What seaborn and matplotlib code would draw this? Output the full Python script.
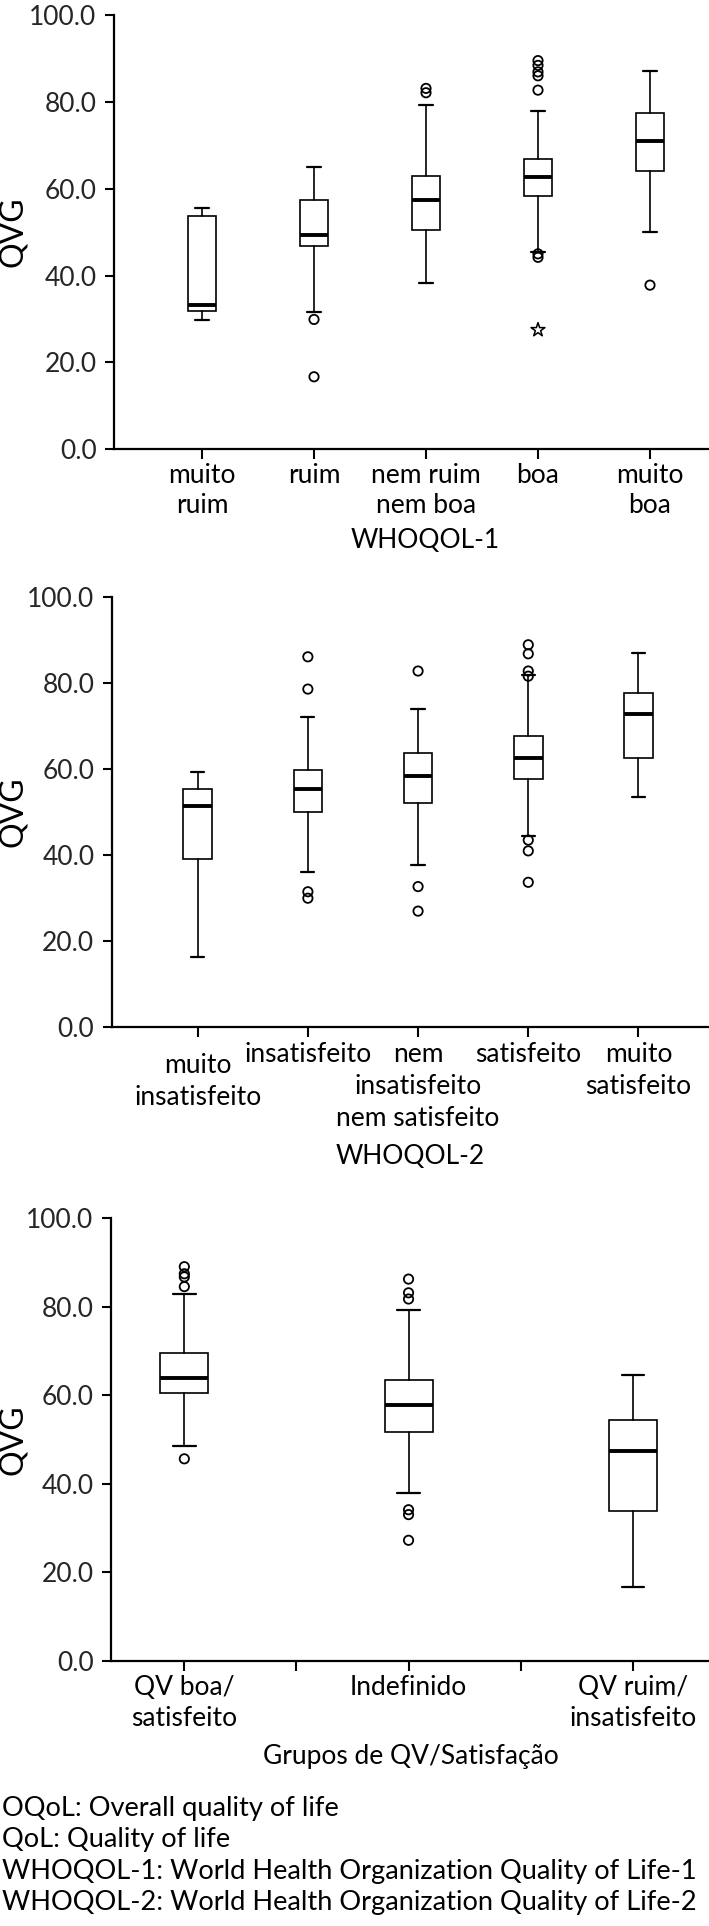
import numpy as np
import pandas as pd
import matplotlib
matplotlib.use("Agg")
import matplotlib.pyplot as plt
import seaborn as sns

# ---------------- data ----------------
w1_labels = ["muito\nruim", "ruim", "nem ruim\nnem boa", "boa", "muito\nboa"]
w1_whislo = [29.8, 31.7, 38.4, 45.5, 50.1]
w1_q1 = [31.8, 46.7, 50.5, 58.4, 64.1]
w1_med = [33.2, 49.3, 57.5, 62.7, 71.1]
w1_q3 = [53.7, 57.5, 63.0, 66.9, 77.5]
w1_whishi = [55.5, 65.0, 79.2, 78.0, 87.1]
w1_out = [[], [29.9, 16.7], [83.1, 82.1], [89.5, 88.4, 86.9, 86.0, 82.7, 45.0, 44.2], [37.8]]
w1_ext = [[], [], [], [27.5], []]

w2_labels = ["muito\ninsatisfeito", "insatisfeito", "nem\ninsatisfeito\nnem satisfeito",
             "satisfeito", "muito\nsatisfeito"]
w2_whislo = [16.4, 36.1, 37.7, 44.5, 53.5]
w2_q1 = [39.0, 50.0, 52.2, 57.7, 62.5]
w2_med = [51.4, 55.4, 58.5, 62.7, 72.7]
w2_q3 = [55.4, 59.7, 63.8, 67.7, 77.7]
w2_whishi = [59.3, 72.0, 73.9, 81.8, 87.1]
w2_out = [[], [86.1, 78.6, 31.5, 30.0], [82.8, 32.7, 27.0],
          [88.9, 86.8, 82.8, 81.6, 43.5, 41.0, 33.7], []]

g_labels = ["QV boa/\nsatisfeito", "Indefinido", "QV ruim/\ninsatisfeito"]
g_whislo = [48.5, 37.8, 16.7]
g_q1 = [60.5, 51.7, 33.9]
g_med = [63.9, 57.7, 47.3]
g_q3 = [69.5, 63.4, 54.3]
g_whishi = [82.8, 79.3, 64.6]
g_out = [[89.0, 87.4, 86.7, 84.5, 45.6], [86.2, 83.1, 81.7, 34.1, 33.0, 27.2], []]

yticks = [0, 20, 40, 60, 80, 100]
footnotes = ["OQoL: Overall quality of life",
             "QoL: Quality of life",
             "WHOQOL-1: World Health Organization Quality of Life-1",
             "WHOQOL-2: World Health Organization Quality of Life-2"]

sns.set_style("ticks")
plt.rcParams['font.family'] = ['Lato', 'DejaVu Sans']
plt.rcParams['text.color'] = 'black'
FS = 19

W, H = 709, 1926
fig = plt.figure(figsize=(W / 100, H / 100), dpi=100)


def px_axes(left, top, bottom):
    return fig.add_axes([left / W, 1 - bottom / H, (W - left) / W, (bottom - top) / H])


def draw_panel(ax, labels, whislo, q1, med, q3, whishi, out, ext, xlim, bw, cw,
               base, step, half_ticks=False, label_shift=None):
    n = len(labels)
    stats = []
    for i in range(n):
        stats.append(dict(med=med[i], q1=q1[i], q3=q3[i], whislo=whislo[i],
                          whishi=whishi[i], fliers=[]))
    ax.bxp(stats, positions=list(range(n)), widths=bw, capwidths=cw,
           patch_artist=True, showfliers=False,
           boxprops=dict(facecolor='white', edgecolor='black', linewidth=1.2),
           medianprops=dict(color='black', linewidth=2.8, solid_capstyle='butt'),
           whiskerprops=dict(color='black', linewidth=1.2),
           capprops=dict(color='black', linewidth=1.6))

    pts = pd.DataFrame([(i, v) for i in range(n) for v in out[i]], columns=['x', 'y'])
    if len(pts):
        sns.scatterplot(data=pts, x='x', y='y', ax=ax, marker='o', s=45,
                        facecolor='none', edgecolor='black', linewidth=1.3, zorder=4)
    if ext is not None:
        ex = pd.DataFrame([(i, v) for i in range(n) for v in ext[i]], columns=['x', 'y'])
        if len(ex):
            sns.scatterplot(data=ex, x='x', y='y', ax=ax, marker='*', s=110,
                            facecolor='none', edgecolor='black', linewidth=1.1, zorder=4)

    ax.set_xlim(*xlim)
    ax.set_ylim(0, 100)
    ax.set_yticks(yticks)
    ax.set_yticklabels([f"{t:.1f}" for t in yticks], fontsize=FS)
    if half_ticks:
        ax.set_xticks(np.arange(0, n - 0.99, 0.5))
    else:
        ax.set_xticks(range(n))
    ax.set_xticklabels([])
    ax.tick_params(axis='y', length=6.5, width=1.5, pad=6, color='black')
    ax.tick_params(axis='x', length=7, width=1.5, color='black')
    for sp in ['left', 'bottom']:
        ax.spines[sp].set_linewidth(1.6)
        ax.spines[sp].set_color('black')
    sns.despine(ax=ax)
    ax.set_xlabel('')
    ax.set_ylabel('')

    # y label, centred on the axes, near the left edge of the figure
    pos = ax.get_position()
    fig.text(13 / W, pos.y0 + pos.height / 2, 'QVG', rotation=90, ha='center',
             va='center', fontsize=23)

    # category labels, one text per line
    tr = ax.get_xaxis_transform()
    axh = pos.height * H
    for i, lab in enumerate(labels):
        dy = label_shift[i] if label_shift is not None else 0
        for k, line in enumerate(lab.split('\n')):
            ax.text(i, -(base + dy + k * step) / axh, line, transform=tr,
                    ha='center', va='baseline', fontsize=FS)
    return ax


ax1 = px_axes(114, 15, 449.3)
draw_panel(ax1, w1_labels, w1_whislo, w1_q1, w1_med, w1_q3, w1_whishi, w1_out, w1_ext,
           (-0.786, 4.527), 0.25, 0.12, 34, 30)
fig.text(425 / W, 1 - 540 / H, "WHOQOL-1", ha='center', va='center', fontsize=FS)

ax2 = px_axes(111.7, 597, 1027.3)
draw_panel(ax2, w2_labels, w2_whislo, w2_q1, w2_med, w2_q3, w2_whishi, w2_out, None,
           (-0.78, 4.64), 0.26, 0.12, 35, 32, label_shift=[11, 0, 0, 0, 0])
fig.text(0.5 + 56 / W, 1 - 1157 / H, "WHOQOL-2", ha='center', va='center', fontsize=FS)

ax3 = px_axes(111, 1218, 1660.7)
draw_panel(ax3, g_labels, g_whislo, g_q1, g_med, g_q3, g_whishi, g_out, None,
           (-0.327, 2.34), 0.214, 0.1, 34, 31, half_ticks=True)
fig.text(0.5 + 56 / W, 1 - 1756 / H, "Grupos de QV/Satisfação", ha='center', va='center',
         fontsize=FS)

for k, line in enumerate(footnotes):
    fig.text(2 / W, 1 - (1808 + 31.5 * k) / H, line, ha='left', va='center', fontsize=19.6)

fig.savefig("out.png", dpi=100, facecolor='white')
